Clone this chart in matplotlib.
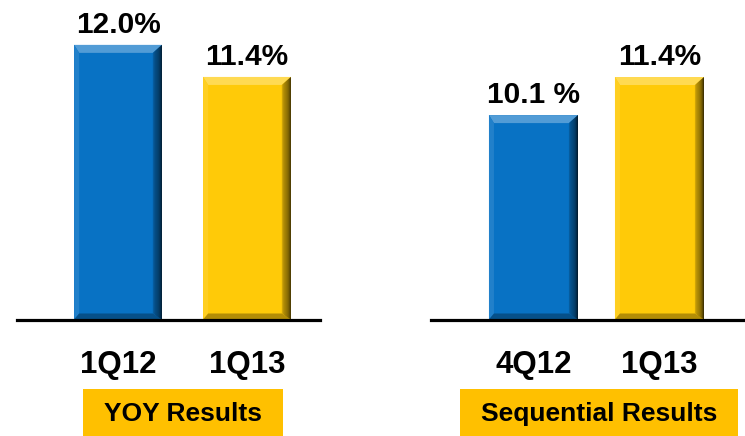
import matplotlib.pyplot as plt
import matplotlib.colors as mcolors
from matplotlib.patches import Polygon, Rectangle

plt.rcParams["font.family"] = ["Liberation Sans", "DejaVu Sans"]

YOY_LABELS = ["1Q12", "1Q13"]
YOY_VALUES = [12.0, 11.4]
YOY_TEXT = ["12.0%", "11.4%"]

SEQ_LABELS = ["4Q12", "1Q13"]
SEQ_VALUES = [10.1, 11.4]
SEQ_TEXT = ["10.1 %", "11.4%"]

BAR_COLORS = ["#0872C4", "#FFCA08"]
BOX_COLOR = "#FFC000"

W, H = 745, 436


def mix(color, other, amount):
    c = mcolors.to_rgb(color)
    o = mcolors.to_rgb(other)
    return tuple(ci + (oi - ci) * amount for ci, oi in zip(c, o))


def add_bevel(ax, x, width, top, color):
    y0 = ax.get_ylim()[0]
    (l, b), (r, t) = ax.transData.transform([(x - width / 2, y0), (x + width / 2, top)])
    bt, bl, br, bb = 8, 5, 9, 6
    inv = ax.transData.inverted()

    def poly(pts, fc):
        ax.add_patch(Polygon(inv.transform(pts), closed=True, facecolor=fc,
                             edgecolor="none", linewidth=0, zorder=2.5))

    # top and left catch the light, bottom sits in shade
    poly([(l, t), (r, t), (r - br, t - bt), (l + bl, t - bt)], mix(color, "white", 0.3))
    poly([(l, b), (l, t), (l + bl, t - bt), (l + bl, b + bb)], mix(color, "white", 0.1))
    poly([(l, b), (r, b), (r - br, b + bb), (l + bl, b + bb)], mix(color, "black", 0.3))

    # right edge fades into a dark shadow
    n = 8
    for i in range(n):
        f0, f1 = i / n, (i + 1) / n
        pts = [
            (r - br * (1 - f0), b + bb * (1 - f0)),
            (r - br * (1 - f0), t - bt * (1 - f0)),
            (r - br * (1 - f1), t - bt * (1 - f1)),
            (r - br * (1 - f1), b + bb * (1 - f1)),
        ]
        poly(pts, mix(color, "black", 0.15 + 0.7 * (i + 0.5) / n))


def make_panel(fig, x0, x1, xlim, ylim, labels, values, texts, width):
    base = 319.5
    ax = fig.add_axes([x0 / W, 1 - base / H, (x1 - x0) / W, base / H])
    ax.set_xlim(*xlim)
    ax.set_ylim(*ylim)
    pos = list(range(len(values)))
    ax.bar(pos, values, width=width, color=BAR_COLORS, zorder=2)
    for p, v, c in zip(pos, values, BAR_COLORS):
        add_bevel(ax, p, width, v, c)
    for p, v, t in zip(pos, values, texts):
        ax.annotate(t, xy=(p, v), xytext=(0, 12 * 0.72), textcoords="offset points",
                    ha="center", va="baseline", fontsize=21.5, fontweight="bold",
                    annotation_clip=False)
    for p, lab in zip(pos, labels):
        ax.annotate(lab, xy=(p, 0), xycoords=("data", "axes fraction"),
                    xytext=(0, -(373 - base) * 0.72), textcoords="offset points",
                    ha="center", va="baseline", fontsize=22.5, fontweight="bold",
                    annotation_clip=False)
    for side in ["left", "right", "top"]:
        ax.spines[side].set_visible(False)
    ax.spines["bottom"].set_linewidth(2.3)
    ax.spines["bottom"].set_zorder(3)
    ax.set_xticks([])
    ax.set_yticks([])
    ax.patch.set_alpha(0)
    return ax


def add_box(fig, x0, x1, text):
    fig.add_artist(Rectangle((x0 / W, 0), (x1 - x0) / W, 47 / H,
                             transform=fig.transFigure, facecolor=BOX_COLOR,
                             edgecolor="none"))
    fig.text((x0 + x1) / 2 / W, 1 - 421 / H, text, ha="center", va="baseline",
             fontsize=19, fontweight="bold")


fig = plt.figure(figsize=(W / 100, H / 100), dpi=100, facecolor="white")

make_panel(fig, 17, 320, (-0.783, 1.566), (6.86, 12.84),
           YOY_LABELS, YOY_VALUES, YOY_TEXT, 0.68)
make_panel(fig, 431, 745, (-0.813, 1.679), (3.12, 14.03),
           SEQ_LABELS, SEQ_VALUES, SEQ_TEXT, 0.706)

add_box(fig, 83, 283, "YOY Results")
add_box(fig, 460, 738, "Sequential Results")

fig.savefig("out.png", dpi=100)
